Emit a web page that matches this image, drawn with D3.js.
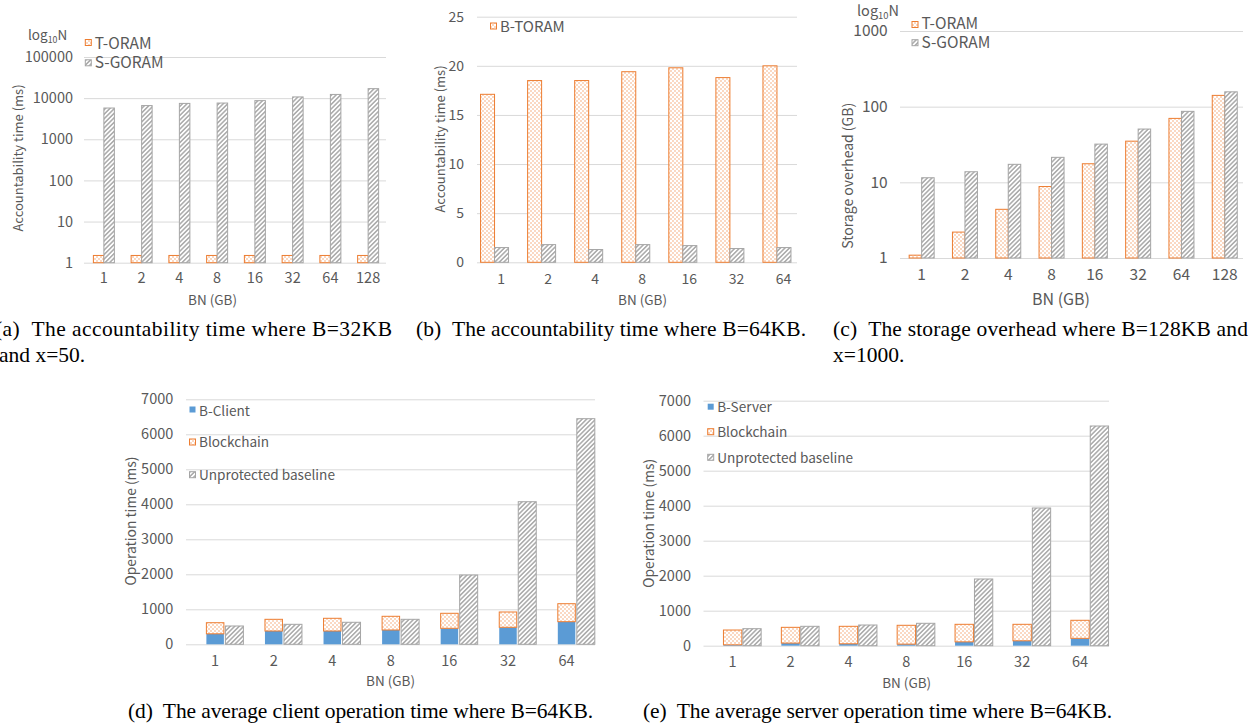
<!DOCTYPE html>
<html>
<head>
<meta charset="utf-8">
<script src="https://cdn.jsdelivr.net/npm/d3@7/dist/d3.min.js"></script>
<style>
  body { margin: 0; background: #fff; }
  text { font-family: "Noto Sans CJK SC", "Noto Sans", sans-serif; fill: #595959; }
  text.cap { font-family: "Liberation Serif", "Times New Roman", serif; fill: #000; white-space: pre; }
</style>
</head>
<body>
<svg width="1252" height="727"></svg>
<script>
// categories
var sizes8 = ["1", "2", "4", "8", "16", "32", "64", "128"];
var sizes7 = ["1", "2", "4", "8", "16", "32", "64"];

// (a) accountability time, B=32KB, x=50 (log scale)
var aTOram = [1.5, 1.5, 1.5, 1.5, 1.5, 1.5, 1.5, 1.5];
var aSGoram = [5750, 6600, 7450, 7600, 8700, 10700, 12300, 17000];
var aTicks = [1, 10, 100, 1000, 10000, 100000];

// (b) accountability time, B=64KB
var bTOram = [17.1, 18.5, 18.5, 19.4, 19.8, 18.8, 20.0];
var bOther = [1.5, 1.8, 1.3, 1.8, 1.7, 1.4, 1.5];
var bTicks = [0, 5, 10, 15, 20, 25];

// (c) storage overhead, B=128KB, x=1000 (log scale)
var cTOram = [1.09, 2.2, 4.4, 8.8, 17.6, 35, 70, 141];
var cSGoram = [11.5, 13.8, 17.3, 21.4, 32, 50.6, 86.7, 157];
var cTicks = [1, 10, 100, 1000];

// (d) client operation time
var dClient = [300, 380, 380, 409, 457, 486, 646];
var dChain = [317, 334, 363, 391, 429, 437, 514];
var dBase = [523, 571, 629, 714, 1980, 4074, 6446];

// (e) server operation time
var eServer = [25, 75, 55, 45, 110, 140, 210];
var eChain = [423, 450, 499, 538, 501, 471, 516];
var eBase = [486, 554, 591, 640, 1906, 3934, 6277];

var opTicks = [0, 1000, 2000, 3000, 4000, 5000, 6000, 7000];

var ORANGE = "#ED7D31", GREY = "#A5A5A5", BLUE = "#5B9BD5";

var svg = d3.select("svg");
var defs = svg.append("defs");

var dots = defs.append("pattern").attr("id", "dots")
  .attr("width", 4).attr("height", 4).attr("patternUnits", "userSpaceOnUse");
dots.append("rect").attr("width", 4).attr("height", 4).attr("fill", "#fff");
dots.append("rect").attr("width", 2).attr("height", 2).attr("fill", "#FAD8C2");
dots.append("rect").attr("x", 2).attr("y", 2).attr("width", 2).attr("height", 2).attr("fill", "#FAD8C2");

var hatch = defs.append("pattern").attr("id", "hatch")
  .attr("width", 3.2).attr("height", 3.2).attr("patternUnits", "userSpaceOnUse")
  .attr("patternTransform", "rotate(45)");
hatch.append("rect").attr("width", 3.2).attr("height", 3.2).attr("fill", "#fff");
hatch.append("line").attr("x1", 0.8).attr("y1", 0).attr("x2", 0.8).attr("y2", 3.2)
  .attr("stroke", "#9C9C9C").attr("stroke-width", 1.3);

var styles = {
  orange: { fill: "url(#dots)", stroke: ORANGE },
  grey: { fill: "url(#hatch)", stroke: GREY },
  blue: { fill: BLUE, stroke: "none" }
};

function frame(o) {
  var g = svg.append("g");
  var y0 = o.y.range()[0];

  var yAxis = d3.axisLeft(o.y).tickValues(o.ticks).tickFormat(d3.format("d"))
    .tickSize(-(o.gx1 - o.gx0)).tickPadding(o.gx0 - o.tickX);
  var yg = g.append("g").attr("transform", "translate(" + o.gx0 + ",0)").call(yAxis);
  yg.select(".domain").remove();
  yg.selectAll(".tick line").attr("stroke", "#D9D9D9");
  yg.selectAll(".tick text").style("font-size", o.fs + "px");

  var xAxis = d3.axisBottom(o.x).tickSize(0);
  var xg = g.append("g").attr("transform", "translate(0," + y0 + ")").call(xAxis);
  xg.select(".domain").remove();
  xg.selectAll(".tick text").style("font-size", o.fs + "px")
    .attr("y", o.labelY - y0).attr("dy", "0.35em").attr("dx", o.labelDx || 0);

  g.append("text").attr("transform", "translate(" + o.yTitle[0] + "," + o.yTitle[1] + ") rotate(-90)")
    .attr("text-anchor", "middle").attr("dominant-baseline", "central")
    .style("font-size", o.yFs + "px").text(o.yLabel);
  g.append("text").attr("x", o.xTitle[0]).attr("y", o.xTitle[1])
    .attr("text-anchor", "middle").attr("dominant-baseline", "central")
    .style("font-size", o.xFs + "px").text("BN (GB)");
  return g;
}

function bars(g, x, y, values, kind, dx, w, base) {
  g.append("g").selectAll("rect").data(values).enter().append("rect")
    .attr("x", function (d, i) { return x(x.domain()[i]) + x.bandwidth() / 2 + dx; })
    .attr("width", w)
    .attr("y", function (d, i) { return y(d + (base ? base[i] : 0)); })
    .attr("height", function (d, i) { return y(base ? base[i] : y.domain()[0]) - y(d + (base ? base[i] : 0)); })
    .attr("fill", styles[kind].fill)
    .attr("stroke", styles[kind].stroke)
    .attr("stroke-width", 1);
}

function legend(items, fs) {
  var g = svg.append("g");
  items.forEach(function (it) {
    g.append("rect").attr("x", it[0] - 3).attr("y", it[1] - 3).attr("width", 6).attr("height", 6)
      .attr("fill", styles[it[4]].fill).attr("stroke", styles[it[4]].stroke);
    g.append("text").attr("x", it[0] + 6.5).attr("y", it[2]).style("font-size", fs + "px").text(it[3]);
  });
}

function logN(x, y, fs) {
  var t = svg.append("text").attr("x", x).attr("y", y).style("font-size", fs + "px");
  t.append("tspan").text("log");
  t.append("tspan").attr("dy", 3).style("font-size", (fs * 0.65) + "px").text("10");
  t.append("tspan").attr("dy", -3).text("N");
}

function caption(x, y, len, str) {
  var t = svg.append("text").attr("class", "cap").attr("x", x).attr("y", y)
    .style("font-size", "21.5px").text(str);
  if (len) t.attr("textLength", len).attr("lengthAdjust", "spacing");
}

// ---- (a)
var xa = d3.scaleBand().domain(sizes8).range([85, 387]);
var ya = d3.scaleLog().domain([1, 100000]).range([262.7, 57]);
var ga = frame({ x: xa, y: ya, ticks: aTicks, gx0: 84, gx1: 386, tickX: 73, fs: 14.5, yFs: 13, xFs: 13.5,
  labelY: 278, yTitle: [17.5, 158], xTitle: [212.5, 299], yLabel: "Accountability time (ms)" });
bars(ga, xa, ya, aTOram, "orange", -10.5, 10.5);
bars(ga, xa, ya, aSGoram, "grey", 0, 10.5);
logN(28, 39.5, 13.5);
legend([[88.3, 42.5, 49, "T-ORAM", "orange"], [88.3, 62.8, 68.3, "S-GORAM", "grey"]], 15.5);

// ---- (b)
var xb = d3.scaleBand().domain(sizes7).range([471, 800.5]);
var yb = d3.scaleLinear().domain([0, 25]).range([262.3, 16.7]);
var gb = frame({ x: xb, y: yb, ticks: bTicks, gx0: 477, gx1: 797, tickX: 464, fs: 14, yFs: 13, xFs: 13.5,
  labelY: 279, labelDx: 6.5, yTitle: [439, 139], xTitle: [642.5, 299], yLabel: "Accountability time (ms)" });
bars(gb, xb, yb, bTOram, "orange", -14, 14);
bars(gb, xb, yb, bOther, "grey", 0, 14);
legend([[493.5, 26, 31.5, "B-TORAM", "orange"]], 15);

// ---- (c)
var xc = d3.scaleBand().domain(sizes8).range([900, 1246.4]);
var yc = d3.scaleLog().domain([1, 1000]).range([258, 31]);
var gc = frame({ x: xc, y: yc, ticks: cTicks, gx0: 900, gx1: 1243, tickX: 887.7, fs: 15.5, yFs: 14, xFs: 16,
  labelY: 274.7, yTitle: [847, 175.8], xTitle: [1061, 298], yLabel: "Storage overhead (GB)" });
bars(gc, xc, yc, cTOram, "orange", -12.5, 12.5);
bars(gc, xc, yc, cSGoram, "grey", 0, 12.5);
logN(857, 16, 14.5);
legend([[915, 24.5, 28.5, "T-ORAM", "orange"], [915, 42.7, 47.7, "S-GORAM", "grey"]], 15.5);

// ---- (d)
var xd = d3.scaleBand().domain(sizes7).range([185.8, 595.8]);
var yd = d3.scaleLinear().domain([0, 7000]).range([644.3, 399.3]);
var gd = frame({ x: xd, y: yd, ticks: opTicks, gx0: 186, gx1: 595, tickX: 173.3, fs: 14.5, yFs: 13.8, xFs: 13.5,
  labelY: 661, yTitle: [130, 521], xTitle: [390.5, 680], yLabel: "Operation time (ms)" });
bars(gd, xd, yd, dClient, "blue", -8.7, 17.5);
bars(gd, xd, yd, dChain, "orange", -8.7, 17.5, dClient);
bars(gd, xd, yd, dBase, "grey", 10.3, 18);
legend([[192.5, 409.5, 415.5, "B-Client", "blue"], [192.5, 442, 447.3, "Blockchain", "orange"],
  [192.5, 474.7, 480, "Unprotected baseline", "grey"]], 13.6);

// ---- (e)
var xe = d3.scaleBand().domain(sizes7).range([703.7, 1109]);
var ye = d3.scaleLinear().domain([0, 7000]).range([645.7, 400.7]);
var ge = frame({ x: xe, y: ye, ticks: opTicks, gx0: 703.5, gx1: 1109, tickX: 691, fs: 14.5, yFs: 13.8, xFs: 13.5,
  labelY: 662, yTitle: [647.8, 523.3], xTitle: [906.7, 681.5], yLabel: "Operation time (ms)" });
bars(ge, xe, ye, eServer, "blue", -9.2, 18.4);
bars(ge, xe, ye, eChain, "orange", -9.2, 18.4, eServer);
bars(ge, xe, ye, eBase, "grey", 10.2, 18.3);
legend([[710.7, 406.7, 411.7, "B-Server", "blue"], [710.7, 431.7, 437.3, "Blockchain", "orange"],
  [710.7, 457.3, 463.3, "Unprotected baseline", "grey"]], 13.6);

// ---- captions
caption(-5, 336, 397, "(a)  The accountability time where B=32KB");
caption(-1, 362, null, "and x=50.");
caption(416, 336, 390, "(b)  The accountability time where B=64KB.");
caption(833, 336, 415, "(c)  The storage overhead where B=128KB and");
caption(833, 362, null, "x=1000.");
caption(128, 718, 465, "(d)  The average client operation time where B=64KB.");
caption(643, 718, 469, "(e)  The average server operation time where B=64KB.");
</script>
</body>
</html>
